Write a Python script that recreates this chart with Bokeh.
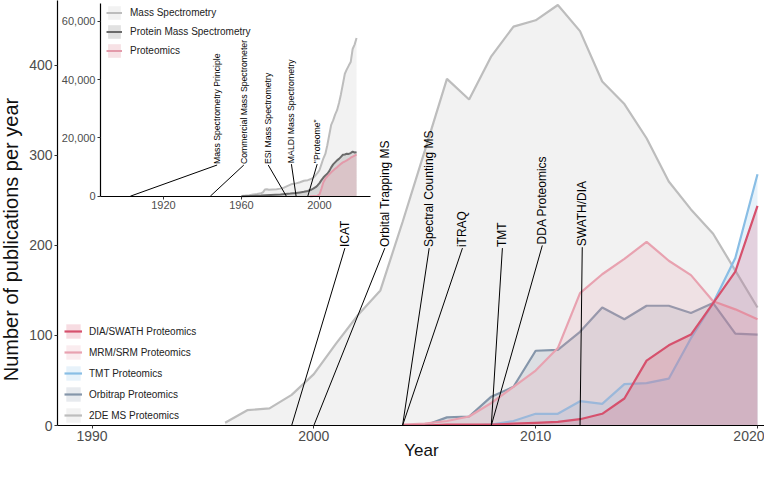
import math
from bokeh.plotting import figure
from bokeh.models import Range1d, LinearAxis, FixedTicker, NumeralTickFormatter, Legend, LegendItem, Label
from bokeh.core.properties import value
from bokeh.embed import file_html
from bokeh.resources import INLINE

FONT = "Liberation Sans"

# ---------------- main chart data (publications per year) ----------------
de2_years = list(range(1996, 2021))
de2_counts = [3, 17, 19, 34, 57, 91, 123, 150, 226, 305, 385, 362, 410, 443, 450, 467,
              438, 382, 357, 319, 271, 240, 213, 172, 131]

orbi_years = list(range(2005, 2021))
orbi_counts = [0, 9, 10, 32, 43, 83, 84, 104, 131, 118, 133, 133, 125, 136, 102, 101]

tmt_years = list(range(2007, 2021))
tmt_counts = [0, 1, 5, 13, 13, 27, 24, 46, 47, 52, 97, 136, 186, 279]

mrm_years = list(range(2004, 2021))
mrm_counts = [1, 2, 5, 10, 25, 43, 61, 86, 147, 168, 185, 204, 183, 167, 138, 129, 118]

dia_years = list(range(2004, 2021))
dia_counts = [0, 0, 1, 1, 1, 2, 3, 4, 7, 13, 30, 72, 89, 101, 136, 171, 244]

series_names = ["2DE MS Proteomics", "Orbitrap Proteomics", "TMT Proteomics",
                "MRM/SRM Proteomics", "DIA/SWATH Proteomics"]
series_colors = ["#BDBDBD", "#8596AA", "#89BEE5", "#E8A2B0", "#D6516D"]

ann_labels = ["ICAT", "Orbital Trapping MS", "Spectral Counting MS", "iTRAQ", "TMT",
              "DDA Proteomics", "SWATH/DIA"]
ann_years = [1999, 2000, 2004, 2004, 2008, 2008, 2012]
ann_text_x = [2001.4, 2003.2, 2005.2, 2006.7, 2008.5, 2010.3, 2012.1]
ann_text_y = [197, 197, 197, 197, 197, 200, 198]

x_ticks = [1990, 2000, 2010, 2020]
y_ticks = [0, 100, 200, 300, 400]
x_title = "Year"
y_title = "Number of publications per year"

# ---------------- inset data ----------------
ms_years = [1960, 1962, 1964, 1966, 1968, 1970, 1971, 1972, 1973, 1974, 1976, 1978, 1980,
            1982, 1984, 1986, 1988, 1990, 1992, 1994, 1996, 1997, 1998, 1999, 2000, 2001,
            2002, 2003, 2004, 2005, 2006, 2007, 2008, 2009, 2010, 2011, 2012, 2013, 2014,
            2015, 2016, 2017, 2018, 2019]
ms_counts = [100, 200, 350, 550, 750, 1000, 1300, 2300, 2400, 2200, 2300, 2400, 2600,
             3000, 3600, 4200, 4400, 4800, 5300, 5500, 6000, 6500, 7200, 8000, 9000, 11000,
             13000, 14500, 17500, 21000, 24500, 26000, 28000, 29500, 32000, 35000, 38500,
             42000, 43500, 44800, 46000, 50500, 52000, 54300]

pms_years = [1960, 1965, 1970, 1975, 1980, 1985, 1988, 1990, 1992, 1994, 1996, 1997, 1998,
             1999, 2000, 2001, 2002, 2003, 2004, 2005, 2006, 2007, 2008, 2009, 2010, 2011,
             2012, 2013, 2014, 2015, 2016, 2017, 2018, 2019]
pms_counts = [0, 100, 200, 400, 600, 900, 1100, 1300, 1500, 1800, 2300, 2700, 3100, 3700,
              4500, 5500, 6400, 7100, 7700, 8600, 9900, 10900, 11600, 12300, 12800, 13500,
              14200, 14300, 14600, 14500, 14800, 15300, 15000, 15100]

prot_years = list(range(1995, 2020))
prot_counts = [0, 0, 50, 100, 200, 600, 2600, 4800, 6000, 6800, 7500, 8200, 8800, 9400,
               9900, 10500, 11100, 11600, 11900, 12300, 12700, 13200, 13600, 13900, 14300]

inset_names = ["Mass Spectrometry", "Protein Mass Spectrometry", "Proteomics"]
inset_colors = ["#BDBDBD", "#6B6B6B", "#E39AAA"]

inset_ann_labels = ["Mass Spectrometry Principle", "Commercial Mass Spectrometer",
                    "ESI Mass Spectrometry", "MALDI Mass Spectrometry", "\"Proteome\""]
inset_ann_years = [1903, 1944, 1983, 1988, 1994]
inset_ann_text_x = [1947.5, 1961.2, 1973.7, 1985.6, 1998.8]
inset_ann_text_y = [10700, 10700, 10700, 11000, 11000]

inset_x_ticks = [1920, 1960, 2000]
inset_y_ticks = [0, 20000, 40000, 60000]

# ---------------- layout geometry (canvas px) ----------------
W, H = 764, 462
FL, FR, FT, FB = 57, 764, 0, 425

px_per_year = (757 - 91.5) / 30.0
x_start = 1990 - (91.5 - FL) / px_per_year
x_end = 2020 + (FR - 757) / px_per_year

# inset mapping: x = 163 + 1.95*(yr-1920); y = 195.7 - v*0.002915
ix_start = 1920 + (FL - 163) / 1.95
ix_end = 1920 + (FR - 163) / 1.95
iy_start = (195.7 - FB) / 0.002915
iy_end = (195.7 - FT) / 0.002915
inset_left = 1920 + (100 - 163) / 1.95

p = figure(width=W, height=H, x_range=Range1d(x_start, x_end), y_range=Range1d(0, 472),
           output_backend="svg", toolbar_location=None,
           min_border_left=FL, min_border_right=W - FR, min_border_top=FT,
           min_border_bottom=H - FB)
p.extra_x_ranges = {"ix": Range1d(ix_start, ix_end)}
p.extra_y_ranges = {"iy": Range1d(iy_start, iy_end)}

p.xgrid.visible = False
p.ygrid.visible = False
p.outline_line_color = None
p.background_fill_color = "white"
p.border_fill_color = "white"

mx = p.xaxis[0]
my = p.yaxis[0]


def style_axis(ax, size):
    ax.axis_line_color = "black"
    ax.axis_line_width = 1.2
    ax.major_tick_line_color = "#333333"
    ax.major_tick_out = 3
    ax.major_tick_in = 0
    ax.minor_tick_out = 0
    ax.minor_tick_in = 0
    ax.major_label_text_color = "#4D4D4D"
    ax.major_label_text_font = FONT
    ax.major_label_text_font_size = size
    ax.major_label_standoff = 2


style_axis(mx, "14px")
style_axis(my, "14px")
mx.ticker = FixedTicker(ticks=x_ticks)
my.ticker = FixedTicker(ticks=y_ticks)

# axis titles placed in the side panels
p.add_layout(Label(x=421 - FL, y=12, x_units="screen", y_units="screen",
                   text=x_title, text_align="center", text_baseline="middle",
                   text_font=FONT, text_font_size="17px", text_color="#111111"), "below")
p.add_layout(Label(x=6, y=FB - 239, x_units="screen", y_units="screen",
                   text=y_title, angle=math.pi / 2, text_align="center",
                   text_baseline="middle", text_font=FONT, text_font_size="20px",
                   text_color="#111111"), "left")

# ---------------- main series ----------------
series = [(de2_years, de2_counts), (orbi_years, orbi_counts), (tmt_years, tmt_counts),
          (mrm_years, mrm_counts), (dia_years, dia_counts)]
items = []
for (yrs, vals), name, col in zip(series, series_names, series_colors):
    va = p.varea(x=yrs, y1=[0] * len(yrs), y2=vals, fill_color=col, fill_alpha=0.2)
    ln = p.line(x=yrs, y=vals, line_color=col, line_width=2.2)
    items.append(LegendItem(label=name, renderers=[va, ln]))

p.segment(x0=ann_years, y0=[0] * len(ann_years), x1=ann_text_x, y1=ann_text_y,
          line_color="black", line_width=1)
p.text(x=ann_text_x, y=ann_text_y, text=ann_labels, angle=math.pi / 2,
       text_align="left", text_baseline="middle", y_offset=-1,
       text_font=value(FONT), text_font_size="12px", text_color="black")

leg1 = Legend(items=list(reversed(items)), location=(64 - FL, 1), orientation="vertical",
              glyph_width=18, glyph_height=18, label_height=18, spacing=3,
              label_standoff=7, padding=0, margin=0, background_fill_alpha=0,
              border_line_alpha=0, label_text_font=FONT, label_text_font_size="10px",
              label_text_color="#222222")
p.add_layout(leg1, "center")

# ---------------- inset ----------------
inset = [(ms_years, ms_counts), (pms_years, pms_counts), (prot_years, prot_counts)]
inset_alpha = [0.2, 0.2, 0.3]
iitems = []
for (yrs, vals), name, col, a in zip(inset, inset_names, inset_colors, inset_alpha):
    va = p.varea(x=yrs, y1=[0] * len(yrs), y2=vals, fill_color=col, fill_alpha=a,
                 x_range_name="ix", y_range_name="iy")
    ln = p.line(x=yrs, y=vals, line_color=col, line_width=2,
                x_range_name="ix", y_range_name="iy")
    iitems.append(LegendItem(label=name, renderers=[va, ln]))

p.segment(x0=inset_ann_years, y0=[0] * len(inset_ann_years), x1=inset_ann_text_x,
          y1=inset_ann_text_y, line_color="black", line_width=1,
          x_range_name="ix", y_range_name="iy")
p.text(x=inset_ann_text_x, y=inset_ann_text_y, text=inset_ann_labels, angle=math.pi / 2,
       text_align="left", text_baseline="middle", y_offset=-1,
       text_font=value(FONT), text_font_size="8.7px", text_color="black",
       x_range_name="ix", y_range_name="iy")

iy_axis = LinearAxis(x_range_name="ix", y_range_name="iy", fixed_location=inset_left,
                     bounds=(0, 66000), ticker=FixedTicker(ticks=inset_y_ticks),
                     formatter=NumeralTickFormatter(format="0,0"))
ix_axis = LinearAxis(x_range_name="ix", y_range_name="iy", fixed_location=0,
                     bounds=(inset_left, 2026),
                     ticker=FixedTicker(ticks=inset_x_ticks))
for ax in (iy_axis, ix_axis):
    style_axis(ax, "11px")
p.add_layout(iy_axis, "left")
p.add_layout(ix_axis, "below")

leg2 = Legend(items=iitems, location=(106 - FL, FB - 59), orientation="vertical",
              glyph_width=16, glyph_height=17, label_height=17, spacing=2,
              label_standoff=8, padding=0, margin=0, background_fill_alpha=0,
              border_line_alpha=0, label_text_font=FONT, label_text_font_size="10px",
              label_text_color="#222222")
p.add_layout(leg2, "center")

open("out.html", "w").write(file_html(p, INLINE))
